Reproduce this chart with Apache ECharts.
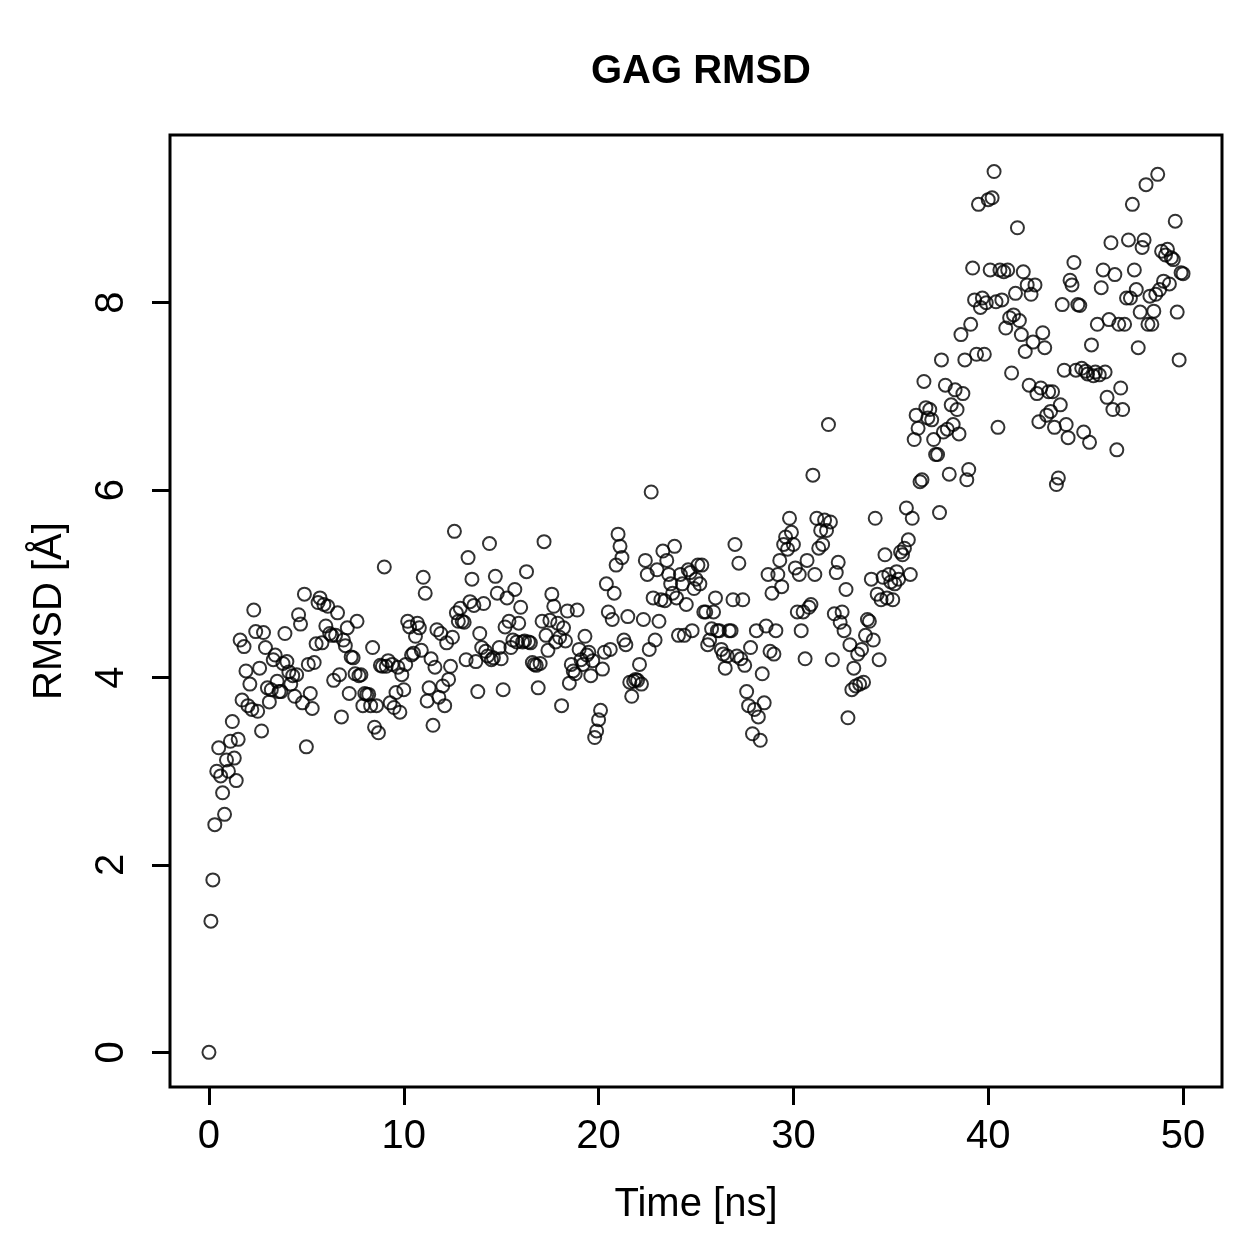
<!DOCTYPE html>
<html>
<head>
<meta charset="utf-8">
<title>GAG RMSD</title>
<script src="https://cdn.jsdelivr.net/npm/echarts@6/dist/echarts.min.js"></script>
<style>
  html, body { margin: 0; padding: 0; background: #fff; }
  #rmsd_show { width: 1259px; height: 1259px; }
</style>
</head>
<body>
<div id="rmsd_show"></div>
<script>
// 采样间隔 (ns)
var timeStep = 0.1;

// RMSD [Å]，每行 1 ns
var rmsd = [
    0.00, 1.40, 1.84, 2.43, 3.00, 3.25, 2.95, 2.77, 2.54, 3.12,
    3.00, 3.32, 3.53, 3.14, 2.90, 3.34, 4.40, 3.76, 4.33, 4.07,
    3.70, 3.93, 3.66, 4.72, 4.49, 3.64, 4.10, 3.43, 4.48, 4.32,
    3.89, 3.74, 3.87, 4.19, 4.24, 3.96, 3.85, 3.85, 4.15, 4.47,
    4.17, 4.06, 3.93, 4.02, 3.80, 4.03, 4.67, 4.57, 3.73, 4.89,
    3.26, 4.14, 3.83, 3.67, 4.16, 4.36, 4.80, 4.85, 4.37, 4.78,
    4.55, 4.76, 4.47, 4.45, 3.97, 4.45, 4.69, 4.03, 3.58, 4.40,
    4.34, 4.53, 3.83, 4.22, 4.21, 4.04, 4.60, 4.02, 4.03, 3.70,
    3.83, 3.82, 3.82, 3.70, 4.32, 3.47, 3.70, 3.41, 4.13, 4.12,
    5.18, 4.12, 4.18, 3.73, 4.14, 3.68, 3.84, 4.11, 3.63, 4.03,
    3.87, 4.14, 4.60, 4.54, 4.24, 4.26, 4.44, 4.58, 4.53, 4.29,
    5.07, 4.90, 3.75, 3.89, 4.20, 3.49, 4.11, 4.51, 3.79, 4.47,
    3.91, 3.70, 4.37, 3.98, 4.12, 4.43, 5.56, 4.69, 4.60, 4.74,
    4.60, 4.59, 4.19, 5.28, 4.81, 5.05, 4.77, 4.17, 3.85, 4.47,
    4.32, 4.79, 4.28, 4.23, 5.43, 4.19, 4.21, 5.08, 4.90, 4.32,
    4.20, 3.87, 4.54, 4.85, 4.60, 4.32, 4.40, 4.94, 4.38, 4.58,
    4.75, 4.38, 4.39, 5.13, 4.38, 4.37, 4.16, 4.14, 4.13, 3.89,
    4.15, 4.60, 5.45, 4.45, 4.29, 4.61, 4.89, 4.76, 4.38, 4.58,
    4.43, 3.70, 4.53, 4.39, 4.71, 3.94, 4.14, 4.07, 4.04, 4.72,
    4.30, 4.19, 4.14, 4.44, 4.24, 4.27, 4.02, 4.18, 3.36, 3.43,
    3.55, 3.65, 4.09, 4.27, 5.00, 4.70, 4.30, 4.62, 4.90, 5.20,
    5.53, 5.40, 5.28, 4.40, 4.35, 4.65, 3.95, 3.80, 3.96, 3.98,
    3.97, 4.14, 3.93, 4.62, 5.25, 5.10, 4.30, 5.98, 4.85, 4.40,
    5.15, 4.60, 4.83, 5.35, 4.82, 5.25, 5.10, 5.00, 4.90, 5.40,
    4.85, 4.45, 5.10, 5.00, 4.45, 4.78, 5.15, 5.12, 4.50, 4.95,
    5.05, 5.20, 5.00, 5.20, 4.70, 4.70, 4.35, 4.40, 4.52, 4.70,
    4.85, 4.50, 4.50, 4.30, 4.25, 4.10, 4.23, 4.50, 4.50, 4.83,
    5.42, 4.23, 5.22, 4.20, 4.83, 4.13, 3.85, 3.70, 4.32, 3.40,
    3.66, 4.50, 3.58, 3.33, 4.04, 3.73, 4.55, 5.10, 4.28, 4.90,
    4.25, 4.50, 5.10, 5.25, 4.97, 5.42, 5.50, 5.37, 5.70, 5.55,
    5.42, 5.17, 4.70, 5.10, 4.50, 4.70, 4.20, 5.25, 4.75, 4.78,
    6.16, 5.10, 5.70, 5.38, 5.57, 5.42, 5.68, 5.57, 6.70, 5.66,
    4.19, 4.68, 5.12, 5.23, 4.59, 4.70, 4.50, 4.94, 3.57, 4.35,
    3.87, 4.10, 3.91, 4.25, 3.93, 4.30, 3.95, 4.45, 4.62, 4.60,
    5.05, 4.40, 5.70, 4.89, 4.19, 4.83, 5.07, 5.31, 4.85, 5.10,
    5.02, 4.83, 5.00, 5.13, 5.05, 5.34, 5.31, 5.38, 5.81, 5.47,
    5.10, 5.70, 6.54, 6.80, 6.66, 6.09, 6.11, 7.16, 6.88, 6.77,
    6.86, 6.75, 6.54, 6.38, 6.38, 5.76, 7.39, 6.62, 7.12, 6.65,
    6.17, 6.91, 6.70, 7.07, 6.86, 6.60, 7.66, 7.03, 7.39, 6.11,
    6.22, 7.77, 8.37, 8.03, 7.45, 9.05, 7.95, 8.05, 7.45, 8.00,
    9.10, 8.35, 9.12, 9.40, 8.01, 6.67, 8.35, 8.03, 8.33, 7.73,
    8.35, 7.84, 7.25, 7.87, 8.10, 8.80, 7.81, 7.66, 8.33, 7.48,
    8.19, 7.12, 8.09, 7.58, 8.19, 7.03, 6.73, 7.09, 7.68, 7.52,
    6.80, 7.05, 6.84, 7.05, 6.67, 6.06, 6.13, 6.91, 7.98, 7.28,
    6.70, 6.56, 8.24, 8.19, 8.43, 7.28, 7.98, 7.97, 7.30, 6.62,
    7.27, 7.24, 6.51, 7.55, 7.22, 7.26, 7.77, 7.23, 8.16, 8.35,
    7.26, 6.99, 7.82, 8.64, 6.86, 8.30, 6.43, 7.77, 7.09, 6.86,
    7.77, 8.05, 8.67, 8.05, 9.05, 8.35, 8.14, 7.52, 7.90, 8.59,
    8.67, 9.26, 7.77, 8.07, 7.77, 7.91, 8.09, 9.37, 8.14, 8.55,
    8.23, 8.51, 8.57, 8.20, 8.48, 8.46, 8.87, 7.90, 7.39, 8.32,
    8.31
];

// 坐标轴刻度
var xTicks = [0, 10, 20, 30, 40, 50];
var yTicks = [0, 2, 4, 6, 8];

var fontName = 'Liberation Sans';

var aPoints = [];
for (var i = 0; i < rmsd.length; i++) {
    aPoints.push([+(i * timeStep).toFixed(1), rmsd[i]]);
}

var oChart = echarts.init(document.getElementById('rmsd_show'));

var chartopt = {
    animation: false,
    backgroundColor: '#fff',
    title: {
        text: 'GAG RMSD',
        left: 696,
        top: 47,
        textAlign: 'center',
        textStyle: {
            fontFamily: fontName,
            fontSize: 40,
            fontWeight: 'bold',
            color: '#000'
        }
    },
    grid: {
        show: true,
        left: 170,
        top: 135,
        width: 1052,
        height: 952,
        borderColor: '#000',
        borderWidth: 3,
        backgroundColor: 'transparent'
    },
    xAxis: {
        type: 'value',
        min: -2,
        max: 52,
        name: 'Time [ns]',
        nameLocation: 'middle',
        nameGap: 98,
        nameTextStyle: {
            fontFamily: fontName,
            fontSize: 40,
            color: '#000'
        },
        axisLine: { show: false, onZero: false },
        splitLine: { show: false },
        axisTick: {
            show: true,
            length: 18,
            customValues: xTicks,
            lineStyle: { color: '#000', width: 3 }
        },
        axisLabel: {
            customValues: xTicks,
            margin: 30,
            fontFamily: fontName,
            fontSize: 40,
            color: '#000'
        }
    },
    yAxis: {
        type: 'value',
        min: -0.37,
        max: 9.79,
        name: 'RMSD [Å]',
        nameLocation: 'middle',
        nameGap: 100,
        nameTextStyle: {
            fontFamily: fontName,
            fontSize: 40,
            color: '#000'
        },
        axisLine: { show: false, onZero: false },
        splitLine: { show: false },
        axisTick: {
            show: true,
            length: 18,
            customValues: yTicks,
            lineStyle: { color: '#000', width: 3 }
        },
        axisLabel: {
            customValues: yTicks,
            rotate: 90,
            margin: 38,
            fontFamily: fontName,
            fontSize: 40,
            color: '#000'
        }
    },
    series: [{
        name: 'RMSD',
        type: 'scatter',
        symbol: 'circle',
        symbolSize: 13,
        itemStyle: {
            color: 'rgba(0,0,0,0)',
            borderColor: '#000',
            borderWidth: 2
        },
        data: aPoints
    }]
};

oChart.setOption(chartopt);
</script>
</body>
</html>
